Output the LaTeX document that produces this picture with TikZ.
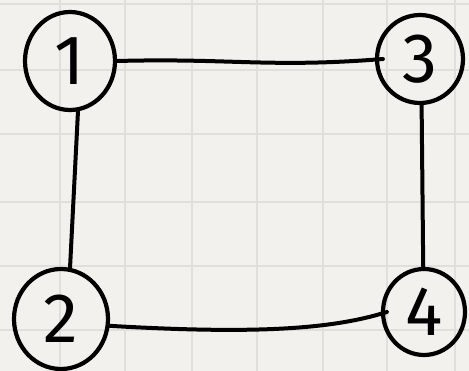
\documentclass[tikz,border=0pt]{standalone}
\usepackage{fontspec}
\usetikzlibrary{shapes.geometric}
\newfontfamily\handfont{Fira Sans}
\definecolor{paper}{HTML}{F2F1EE}
\definecolor{gridc}{HTML}{E0DFDC}
\tikzset{
  vert/.style={draw=black, line width=4.2pt, ellipse, inner sep=0pt, font=\handfont\fontsize{70}{70}\selectfont},
  edge/.style={draw=black, line width=4pt, line cap=round},
  gridline/.style={draw=gridc, line width=1.8pt}
}
\begin{document}
\begin{tikzpicture}[x=1pt,y=-1pt]
\fill[paper] (0,0) rectangle (469,371);
\useasboundingbox (0,0) rectangle (469,371);
\foreach \gx in {60,125,192,257,323,387,455} \draw[gridline] (\gx,0) -- (\gx,371);
\foreach \gy in {4,70,134,202,266,330} \draw[gridline] (0,\gy) -- (469,\gy);
\node[vert, minimum width=90pt, minimum height=98pt] (n1) at (70,61) {1};
\node[vert, minimum width=86pt, minimum height=88pt] (n3) at (420,59) {3};
\node[vert, minimum width=94pt, minimum height=100pt] (n2) at (61,319) {2};
\node[vert, minimum width=82pt, minimum height=86pt] (n4) at (424,312) {4};
\draw[edge] (n1.east) .. controls (230,58) and (270,68) .. ([xshift=8pt]n3.west);
\draw[edge] (n1.-81) -- (n2.80);
\draw[edge] (n3.-88) -- (n4.91);
\draw[edge] (n2.-8) .. controls (250,334) and (330,330) .. ([xshift=6pt]n4.west);
\end{tikzpicture}
\end{document}
